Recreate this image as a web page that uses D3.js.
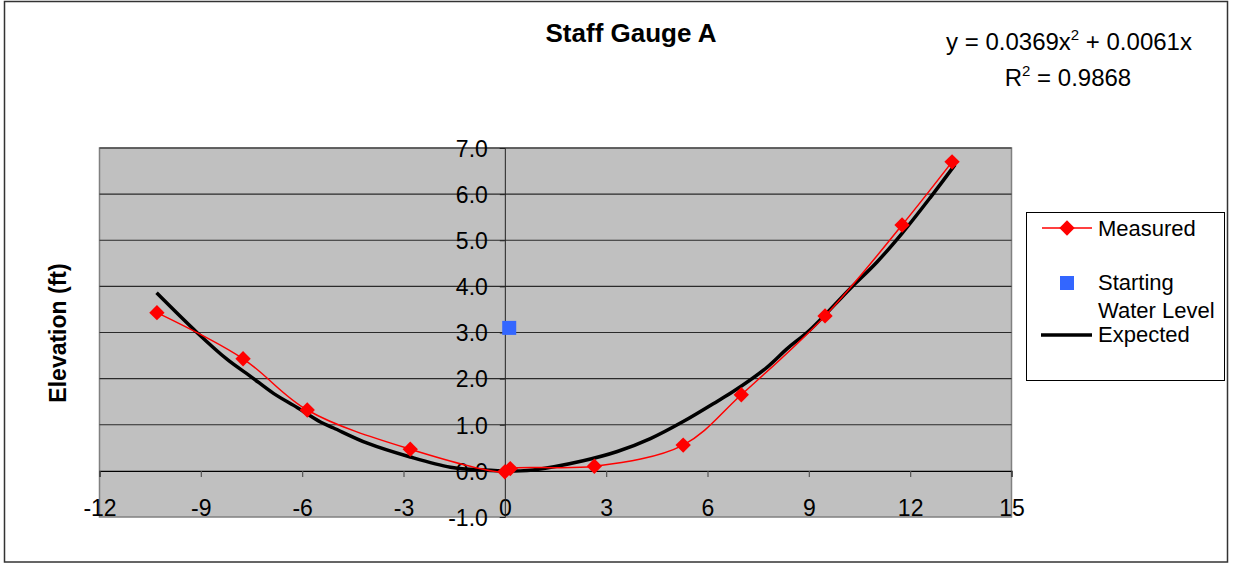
<!DOCTYPE html>
<html>
<head>
<meta charset="utf-8">
<script src="https://cdn.jsdelivr.net/npm/d3@7"></script>
<style>
  body { margin: 0; background: #fff; }
  text { font-family: "Liberation Sans", Arial, sans-serif; fill: #000; }
</style>
</head>
<body>
<svg id="chart"></svg>
<script>
const width = 1233, height = 564;

// measured staff gauge readings (distance, elevation)
const measuredX = [-10.3, -7.75, -5.85, -2.8, 0.0, 0.16, 2.65, 5.28, 7.0, 9.48, 11.76, 13.24];
const measuredY = [3.43, 2.43, 1.32, 0.47, -0.02, 0.05, 0.1, 0.56, 1.65, 3.36, 5.33, 6.7];

// starting water level
const startX = [0.13];
const startY = [3.1];

// expected curve
const expectedX = [-10.31, -9.1, -8.21, -7.53, -6.85, -6.14, -5.46, -5.07, -4.07, -2.8, -1.61, -0.64, 0.46, 0.84, 2.32, 3.33, 4.31, 5.28, 6.38, 6.76, 7.77, 8.36, 9.04, 10.22, 11.02, 11.76, 12.59, 13.33];
const expectedY = [3.86, 2.99, 2.41, 2.05, 1.68, 1.37, 1.06, 0.93, 0.6, 0.3, 0.08, 0.02, 0.0, 0.02, 0.22, 0.42, 0.7, 1.07, 1.55, 1.72, 2.25, 2.65, 3.06, 3.95, 4.53, 5.15, 5.92, 6.64];

const xTicks = [-12, -9, -6, -3, 0, 3, 6, 9, 12, 15];
const yTicks = [-1, 0, 1, 2, 3, 4, 5, 6, 7];

const plot = { left: 99.5, top: 148, right: 1011.5, bottom: 517 };

const svg = d3.select("#chart")
  .attr("width", width)
  .attr("height", height);

svg.append("rect")
  .attr("x", 4.5).attr("y", 1.5)
  .attr("width", 1223).attr("height", 560.5)
  .attr("fill", "#fff")
  .attr("stroke", "#333")
  .attr("stroke-width", 1.5);

let x = d3.scaleLinear().domain([-12, 15]).range([plot.left, plot.right]);
let y = d3.scaleLinear().domain([-1, 7]).range([plot.bottom, plot.top]);

svg.append("rect")
  .attr("x", plot.left).attr("y", plot.top)
  .attr("width", plot.right - plot.left)
  .attr("height", plot.bottom - plot.top)
  .attr("fill", "#c0c0c0")
  .attr("stroke", "#808080")
  .attr("stroke-width", 1.5);

// horizontal gridlines
svg.append("g").selectAll("line")
  .data(yTicks.filter(d => d > -1 && d !== 0))
  .enter().append("line")
  .attr("x1", plot.left).attr("x2", plot.right)
  .attr("y1", d => y(d)).attr("y2", d => y(d))
  .attr("stroke", "#2a2a2a")
  .attr("stroke-width", 1.2);

// x axis crossing at y = 0 (plain hyphen for negatives, like the original)
let xAxis = d3.axisBottom(x)
  .tickValues(xTicks)
  .tickSize(6)
  .tickFormat(d => String(d));
let gx = svg.append("g")
  .attr("transform", `translate(0, ${y(0)})`)
  .call(xAxis);
gx.select(".domain").attr("stroke", "#000").attr("stroke-width", 1.2);
gx.selectAll(".tick line").attr("stroke", "#555").attr("stroke-width", 1.2);
gx.selectAll(".tick text")
  .attr("y", 0)
  .attr("dy", 0)
  .attr("transform", `translate(0, ${516 - y(0)})`)
  .style("font-size", "23px")
  .style("font-family", "Liberation Sans, Arial, sans-serif")
  .attr("fill", "#000");

// y axis crossing at x = 0
let yAxis = d3.axisLeft(y)
  .tickValues(yTicks)
  .tickSize(5)
  .tickFormat(d => d.toFixed(1));
let gy = svg.append("g")
  .attr("transform", `translate(${x(0)}, 0)`)
  .call(yAxis);
gy.select(".domain").attr("stroke", "#222").attr("stroke-width", 1);
gy.selectAll(".tick line").attr("stroke", "#222");
gy.selectAll(".tick text")
  .attr("x", -17)
  .attr("dy", "0.36em")
  .style("font-size", "23px")
  .style("font-family", "Liberation Sans, Arial, sans-serif")
  .attr("fill", "#000");

let measured = measuredX.map((d, i) => [d, measuredY[i]]);
let expected = expectedX.map((d, i) => [d, expectedY[i]]);

svg.append("path")
  .datum(expected)
  .attr("fill", "none")
  .attr("stroke", "#000")
  .attr("stroke-width", 3.5)
  .attr("stroke-linejoin", "round")
  .attr("d", d3.line().x(d => x(d[0])).y(d => y(d[1])).curve(d3.curveCatmullRom));

svg.append("path")
  .datum(measured)
  .attr("fill", "none")
  .attr("stroke", "#ff0000")
  .attr("stroke-width", 1.5)
  .attr("d", d3.line().x(d => x(d[0])).y(d => y(d[1])).curve(d3.curveCatmullRom));

let diamond = d3.symbol().type(d3.symbolDiamond2).size(150);
svg.append("g").selectAll("path")
  .data(measured)
  .enter().append("path")
  .attr("transform", d => `translate(${x(d[0])}, ${y(d[1])})`)
  .attr("d", diamond)
  .attr("fill", "#ff0000");

svg.append("g").selectAll("rect")
  .data(startX.map((d, i) => [d, startY[i]]))
  .enter().append("rect")
  .attr("x", d => x(d[0]) - 7)
  .attr("y", d => y(d[1]) - 7)
  .attr("width", 14).attr("height", 14)
  .attr("fill", "#3366ff");

// title and trendline label
svg.append("text")
  .attr("x", 631).attr("y", 42)
  .attr("text-anchor", "middle")
  .style("font-size", "26px")
  .style("font-weight", "bold")
  .text("Staff Gauge A");

let eq = svg.append("text")
  .attr("x", 1069).attr("y", 50)
  .attr("text-anchor", "middle")
  .style("font-size", "24px");
eq.append("tspan").text("y = 0.0369x");
eq.append("tspan").attr("dy", -10).style("font-size", "15px").text("2");
eq.append("tspan").attr("dy", 10).text(" + 0.0061x");

let r2 = svg.append("text")
  .attr("x", 1068).attr("y", 86)
  .attr("text-anchor", "middle")
  .style("font-size", "24px");
r2.append("tspan").text("R");
r2.append("tspan").attr("dy", -10).style("font-size", "15px").text("2");
r2.append("tspan").attr("dy", 10).text(" = 0.9868");

svg.append("text")
  .attr("transform", "translate(66, 333) rotate(-90)")
  .attr("text-anchor", "middle")
  .style("font-size", "23px")
  .style("font-weight", "bold")
  .text("Elevation (ft)");

// legend
let legend = svg.append("g");
legend.append("rect")
  .attr("x", 1026.5).attr("y", 212.5)
  .attr("width", 198).attr("height", 168)
  .attr("fill", "#fff")
  .attr("stroke", "#000")
  .attr("stroke-width", 1);

legend.append("line")
  .attr("x1", 1042).attr("x2", 1092)
  .attr("y1", 228).attr("y2", 228)
  .attr("stroke", "#ff0000").attr("stroke-width", 1.5);
legend.append("path")
  .attr("transform", "translate(1067, 228)")
  .attr("d", diamond)
  .attr("fill", "#ff0000");
legend.append("text").attr("x", 1098).attr("y", 236)
  .style("font-size", "22px").text("Measured");

legend.append("rect")
  .attr("x", 1060).attr("y", 276)
  .attr("width", 14).attr("height", 14)
  .attr("fill", "#3366ff");
legend.append("text").attr("x", 1098).attr("y", 290)
  .style("font-size", "22px").text("Starting");
legend.append("text").attr("x", 1098).attr("y", 318)
  .style("font-size", "22px").text("Water Level");

legend.append("line")
  .attr("x1", 1041).attr("x2", 1092)
  .attr("y1", 335).attr("y2", 335)
  .attr("stroke", "#000").attr("stroke-width", 3.5);
legend.append("text").attr("x", 1098).attr("y", 342)
  .style("font-size", "22px").text("Expected");
</script>
</body>
</html>
